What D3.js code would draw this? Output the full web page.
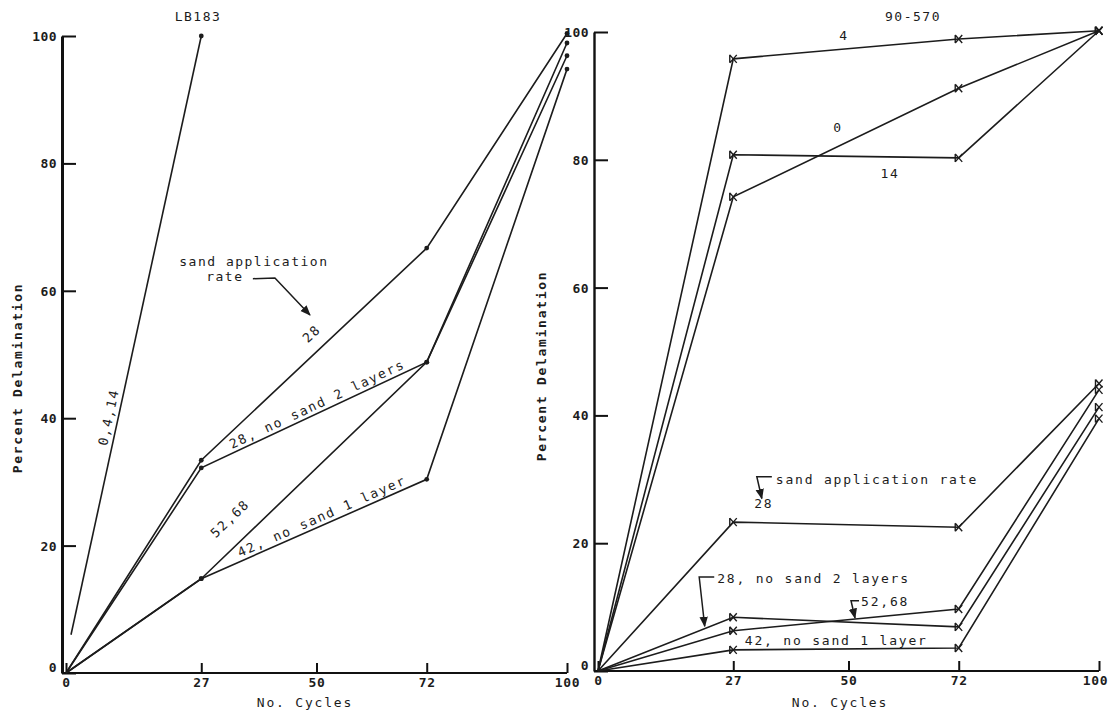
<!DOCTYPE html>
<html>
<head>
<meta charset="utf-8">
<script src="https://cdn.jsdelivr.net/npm/d3@7"></script>
<style>
  body { margin: 0; background: #fff; }
  svg text { font-family: "DejaVu Sans Mono", "Liberation Mono", monospace; fill: #1c1c1c; }
</style>
</head>
<body>
<svg id="chart" width="1110" height="713"></svg>
<script>
// Axis ticks shared by both panels
const cycleTicks = [0, 27, 50, 72, 100];
const percentTicks = [0, 20, 40, 60, 80, 100];

// LB183 panel: series names, cycles and percent delamination
const lbNames = ["0,4,14", "28", "28, no sand 2 layers", "52,68", "42, no sand 1 layer"];
const lbCycles = [
  [1, 27],
  [0, 27, 72, 100],
  [0, 27, 72, 100],
  [0, 27, 72, 100],
  [0, 27, 72, 100]
];
const lbValues = [
  [6, 100],
  [0, 33.4, 66.7, 100.4],
  [0, 32.2, 48.8, 98.9],
  [0, 14.8, 48.8, 96.9],
  [0, 14.8, 30.4, 94.8]
];

// 90-570 panel
const hsNames = ["4", "0", "14", "28", "28, no sand 2 layers", "52,68", "42, no sand 1 layer"];
const hsCycles = [0, 27, 72, 100];
const hsValues = [
  [0, 95.8, 98.9, 100.2],
  [0, 74.2, 91.2, 100.2],
  [0, 80.8, 80.3, 100.2],
  [0, 23.3, 22.5, 45.0],
  [0, 8.4, 6.9, 41.3],
  [0, 6.3, 9.7, 44.0],
  [0, 3.3, 3.6, 39.5]
];

const svg = d3.select("#chart");

const defs = svg.append("defs");
defs.append("marker")
  .attr("id", "head")
  .attr("viewBox", "0 0 10 10")
  .attr("refX", 9).attr("refY", 5)
  .attr("markerWidth", 7).attr("markerHeight", 7)
  .attr("orient", "auto-start-reverse")
  .append("path").attr("d", "M0,1 L10,5 L0,9 Z").attr("fill", "#1c1c1c");

function panel(opts) {
  const x = d3.scaleLinear().domain([0, 100]).range(opts.xRange);
  const y = d3.scaleLinear().domain([0, 100]).range(opts.yRange);
  const g = svg.append("g");

  // y axis: ticks point into the plot, labels sit outside
  const ya = g.append("g")
    .attr("transform", `translate(${opts.yAxisX},0)`)
    .call(d3.axisLeft(y).tickValues(percentTicks).tickSize(-14).tickSizeOuter(0).tickPadding(5));
  ya.select(".domain").attr("stroke", "#111").attr("stroke-width", opts.yAxisWidth);
  ya.selectAll(".tick line").attr("stroke", "#111").attr("stroke-width", 2);
  ya.selectAll(".tick text")
    .attr("font-size", 13).attr("font-weight", "bold").attr("letter-spacing", 0.4)
    .attr("font-family", "DejaVu Sans Mono, monospace")
    .attr("dy", d => d === 0 ? "-0.15em" : "0.34em");

  // x axis: ticks stand upward
  const xa = g.append("g")
    .attr("transform", `translate(0,${y(0)})`)
    .call(d3.axisBottom(x).tickValues(cycleTicks).tickSize(-10).tickSizeOuter(0).tickPadding(5));
  xa.select(".domain").attr("stroke", "#111").attr("stroke-width", 2.2)
    .attr("d", `M${opts.yAxisX},0H${x(100)}`);
  xa.selectAll(".tick line").attr("stroke", "#111").attr("stroke-width", 2);
  xa.selectAll(".tick text")
    .attr("font-size", 13).attr("font-weight", "bold").attr("letter-spacing", 0.6)
    .attr("font-family", "DejaVu Sans Mono, monospace")
    .attr("dx", d => d === 100 ? opts.lastTickShift : 0);

  // axis titles
  g.append("text")
    .attr("transform", `translate(${opts.yTitleX},${opts.yTitleY}) rotate(-90)`)
    .attr("text-anchor", "middle").attr("font-size", 13).attr("font-weight", "bold")
    .attr("letter-spacing", 1.7)
    .text("Percent Delamination");
  g.append("text")
    .attr("x", opts.xTitleX).attr("y", 707)
    .attr("text-anchor", "middle").attr("font-size", 13).attr("letter-spacing", 1.8)
    .text("No. Cycles");
  g.append("text")
    .attr("x", opts.titleX).attr("y", 21)
    .attr("text-anchor", "middle").attr("font-size", 13).attr("letter-spacing", 1.5)
    .text(opts.title);

  return { g, x, y };
}

const line = (x, y) => d3.line().x(d => x(d[0])).y(d => y(d[1]));

// ---------- LB183 ----------
const L = panel({
  xRange: [66, 567], yRange: [673, 36], yAxisX: 62, yAxisWidth: 3, lastTickShift: 0,
  yTitleX: 22, yTitleY: 378, xTitleX: 305, titleX: 198, title: "LB183"
});
const lbPts = lbNames.map((n, i) => lbCycles[i].map((c, j) => [c, lbValues[i][j]]));
L.g.append("g").selectAll("path").data(lbPts).join("path")
  .attr("d", line(L.x, L.y))
  .attr("fill", "none").attr("stroke", "#1c1c1c").attr("stroke-width", 1.6);
L.g.append("g").selectAll("circle")
  .data(lbPts.flatMap(s => s.filter((p, j) => p[0] > 0 && !(s.length === 2 && j === 0))))
  .join("circle")
  .attr("cx", d => L.x(d[0])).attr("cy", d => L.y(d[1])).attr("r", 2.4).attr("fill", "#1c1c1c");

// labels laid along a segment of a series
function segLabel(P, pts, seg, t, offset, text) {
  const a = pts[seg], b = pts[seg + 1];
  const x0 = P.x(a[0]), y0 = P.y(a[1]), x1 = P.x(b[0]), y1 = P.y(b[1]);
  const ang = Math.atan2(y1 - y0, x1 - x0) * 180 / Math.PI;
  P.g.append("text")
    .attr("transform", `translate(${x0 + t * (x1 - x0)},${y0 + t * (y1 - y0)}) rotate(${ang})`)
    .attr("y", offset).attr("text-anchor", "middle")
    .attr("font-size", 13).attr("letter-spacing", 1.8)
    .text(text);
}
segLabel(L, lbPts[0], 0, 0.36, -5, "0,4,14");
segLabel(L, lbPts[1], 1, 0.54, -12, "28");
segLabel(L, lbPts[2], 1, 0.53, -4, "28, no sand 2 layers");
segLabel(L, lbPts[3], 1, 0.2, -19, "52,68");
segLabel(L, lbPts[4], 1, 0.55, -4, "42, no sand 1 layer");

// sand application rate callout
L.g.append("text").attr("x", L.x(37.5)).attr("y", L.y(63.9))
  .attr("text-anchor", "middle").attr("font-size", 13).attr("letter-spacing", 1.5)
  .text("sand application");
L.g.append("text").attr("x", L.x(31.7)).attr("y", L.y(61.5))
  .attr("text-anchor", "middle").attr("font-size", 13).attr("letter-spacing", 1.5)
  .text("rate");
L.g.append("path")
  .attr("d", d3.line()([[L.x(37.3), L.y(61.9)], [L.x(41.7), L.y(62.0)], [L.x(48.7), L.y(56.2)]]))
  .attr("fill", "none").attr("stroke", "#1c1c1c").attr("stroke-width", 1.5)
  .attr("marker-end", "url(#head)");

// ---------- 90-570 ----------
const R = panel({
  xRange: [598, 1099], yRange: [671, 32], yAxisX: 594, yAxisWidth: 2.4, lastTickShift: -4,
  yTitleX: 546, yTitleY: 366, xTitleX: 840, titleX: 913, title: "90-570"
});
const hsPts = hsNames.map((n, i) => hsCycles.map((c, j) => [c, hsValues[i][j]]));
R.g.append("g").selectAll("path").data(hsPts).join("path")
  .attr("d", line(R.x, R.y))
  .attr("fill", "none").attr("stroke", "#1c1c1c").attr("stroke-width", 1.6);
R.g.append("g").selectAll("path")
  .data(hsPts.flatMap(s => s.filter(p => p[0] > 0)))
  .join("path")
  .attr("transform", d => `translate(${R.x(d[0])},${R.y(d[1])})`)
  .attr("d", "M-3.5,-4L3.5,4M-3.5,4L3.5,-4M-3.5,-4V4")
  .attr("fill", "none").attr("stroke", "#1c1c1c").attr("stroke-width", 1.4);

function note(P, cx, cy, text, anchor) {
  P.g.append("text").attr("x", P.x(cx)).attr("y", P.y(cy))
    .attr("text-anchor", anchor).attr("font-size", 13).attr("letter-spacing", 1.8)
    .text(text);
}
function hook(P, pts) {
  P.g.append("path")
    .attr("d", d3.line()(pts.map(p => [P.x(p[0]), P.y(p[1])])))
    .attr("fill", "none").attr("stroke", "#1c1c1c").attr("stroke-width", 1.5)
    .attr("marker-end", "url(#head)");
}
note(R, 49.1, 98.7, "4", "middle");
note(R, 47.9, 84.4, "0", "middle");
note(R, 58.3, 77.2, "14", "middle");
note(R, 35.5, 29.3, "sand application rate", "start");
note(R, 33.1, 25.5, "28", "middle");
hook(R, [[34.7, 30.4], [31.7, 30.4], [32.7, 27.0]]);
note(R, 23.8, 13.8, "28, no sand 2 layers", "start");
hook(R, [[23.2, 14.7], [20.2, 14.7], [21.3, 7.0]]);
note(R, 52.5, 10.2, "52,68", "start");
hook(R, [[52.1, 11.0], [50.5, 11.0], [51.3, 8.3]]);
note(R, 29.3, 4.1, "42, no sand 1 layer", "start");
</script>
</body>
</html>
